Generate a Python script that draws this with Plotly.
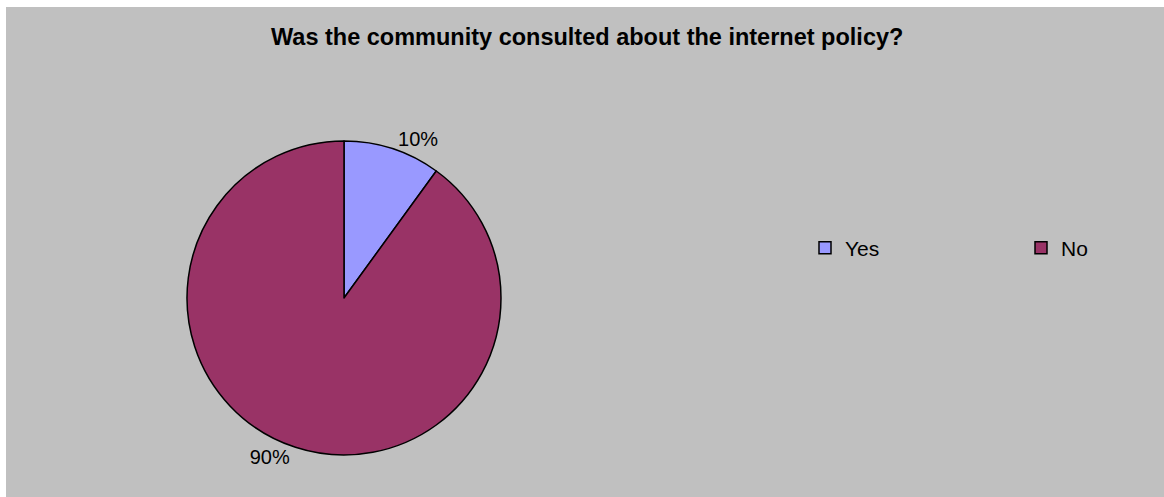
import plotly.graph_objects as go

labels = ["Yes", "No"]
values = [10, 90]
colors = ["#9999FF", "#993366"]
title_text = "Was the community consulted about the internet policy?"

W, H = 1164, 497

fig = go.Figure()
fig.add_trace(go.Pie(
    labels=labels,
    values=values,
    sort=False,
    direction="clockwise",
    rotation=0,
    marker=dict(colors=colors, line=dict(color="#000000", width=1.5)),
    texttemplate="%{percent:.0%}",
    textposition="outside",
    textfont=dict(family="Liberation Sans, Arial, sans-serif", size=20, color="#000000"),
    outsidetextfont=dict(family="Liberation Sans, Arial, sans-serif", size=20, color="#000000"),
    domain=dict(x=[(344 - 157) / W, (344 + 157) / W], y=[(199 - 157) / H, (199 + 157) / H]),
    automargin=False,
    hoverinfo="label+percent",
))

fig.update_layout(
    width=W, height=H,
    margin=dict(l=0, r=0, t=0, b=0, autoexpand=False),
    paper_bgcolor="#FFFFFF",
    plot_bgcolor="#FFFFFF",
    shapes=[dict(type="rect", xref="paper", yref="paper",
                 x0=6 / W, x1=1, y0=0, y1=1 - 7 / H,
                 fillcolor="#C0C0C0", line=dict(width=0), layer="below")],
    annotations=[dict(text="<b>" + title_text + "</b>", x=587 / W, y=1 - 37 / H,
                      xref="paper", yref="paper", xanchor="center", yanchor="middle",
                      showarrow=False,
                      font=dict(family="Liberation Sans, Arial, sans-serif", size=23.5, color="#000000"))],
    legend=dict(orientation="h", x=805 / W, y=1 - 248 / H, xanchor="left", yanchor="middle",
                bgcolor="rgba(0,0,0,0)", entrywidth=171, entrywidthmode="pixels",
                font=dict(family="Liberation Sans, Arial, sans-serif", size=21, color="#000000")),
    showlegend=True,
)

fig.write_html("out.html", config={"displayModeBar": False},
               post_script="document.body.style.margin='0';document.body.style.overflow='hidden';")
